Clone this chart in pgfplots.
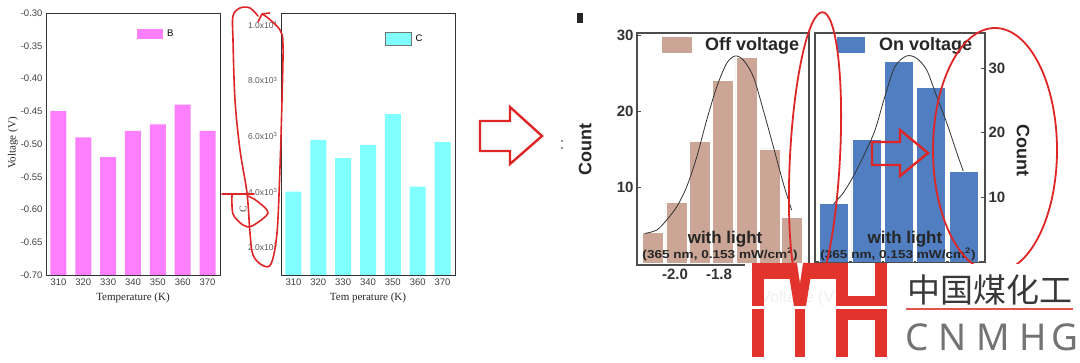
\documentclass[border=0pt]{standalone}
\usepackage{fontspec}
\setmainfont{Liberation Sans}
\newfontfamily\timesf{Liberation Serif}
\newfontfamily\cjk{Noto Sans CJK SC}
\newfontfamily\notos{Noto Sans}
\usepackage{pgfplots}
\pgfplotsset{compat=1.18}
\definecolor{magb}{RGB}{255,128,255}
\definecolor{cyanc}{RGB}{128,255,255}
\definecolor{offc}{RGB}{203,165,149}
\definecolor{onc}{RGB}{80,126,192}
\definecolor{annred}{RGB}{222,38,38}
\definecolor{logored}{RGB}{226,52,44}
\pgfplotsset{every axis/.append style={clip mode=individual}}
\begin{document}
\begin{tikzpicture}
\path[use as bounding box] (0,0) rectangle (1080pt,-363pt);

% ---------------- Panel B ----------------
\begin{axis}[at={(46pt,-275pt)}, anchor=south west, scale only axis,
  width=174pt, height=262pt,
  xmin=305, xmax=375, ymin=0, ymax=0.4,
  xtick={310,320,330,340,350,360,370},
  ytick={0,0.05,0.1,0.15,0.2,0.25,0.3,0.35,0.4},
  yticklabels={-0.70,-0.65,-0.60,-0.55,-0.50,-0.45,-0.40,-0.35,-0.30},
  major tick length=0pt,
  axis line style={black!80, line width=0.7pt},
  tick label style={font=\fontsize{9.5}{10}\selectfont, text=black!75},
  /pgf/number format/assume math mode=true,
  /pgf/number format/1000 sep={},
  legend style={at={(rel axis cs:0.523,0.92)}, anchor=west, draw=none, fill=none,
    inner sep=0pt, nodes={inner sep=0pt}, font=\fontsize{9.5}{10}\selectfont},
]
\addplot[ybar, bar width=16pt, fill=magb, draw=none, forget plot]
  table[x=T, y expr=\thisrow{V}+0.7] {
T V
310 -0.45
320 -0.49
330 -0.52
340 -0.48
350 -0.47
360 -0.44
370 -0.48
};
\addlegendimage{legend image code/.code={\fill[magb, draw=none] (0pt,-5pt) rectangle (26pt,5pt); \path[draw=none] (0pt,0pt) -- (30pt,0pt);}}
\addlegendentry{B}
\node[font=\timesf\fontsize{11}{11}\selectfont, text=black!85] at (axis description cs:0.5,-0.088) {Temperature (K)};
\node[rotate=90, font=\timesf\fontsize{11}{11}\selectfont, text=black!85] at (axis description cs:-0.19,0.504) {Voltage (V)};
\end{axis}

% ---------------- Panel C ----------------
\begin{axis}[at={(281pt,-275pt)}, anchor=south west, scale only axis,
  width=174pt, height=262pt,
  xmin=305, xmax=375, ymin=1000, ymax=10430,
  scaled y ticks=false,
  xtick={310,320,330,340,350,360,370},
  ytick={2000,4000,6000,8000,10000},
  yticklabels={2.0x10\textsuperscript{3},4.0x10\textsuperscript{3},6.0x10\textsuperscript{3},8.0x10\textsuperscript{3},1.0x10\textsuperscript{4}},
  major tick length=0pt,
  axis line style={black!80, line width=0.7pt},
  tick label style={font=\fontsize{9.5}{10}\selectfont, text=black!75},
  yticklabel style={font=\fontsize{8.5}{9}\selectfont, text=black!65},
  /pgf/number format/assume math mode=true,
  /pgf/number format/1000 sep={},
  legend style={at={(rel axis cs:0.598,0.901)}, anchor=west, draw=none, fill=none,
    inner sep=0pt, nodes={inner sep=0pt}, font=\fontsize{9.5}{10}\selectfont},
]
\addplot[ybar, bar width=16pt, fill=cyanc, draw=none, forget plot] coordinates {
(310,4000) (320,5860) (330,5210) (340,5680) (350,6790) (360,4180) (370,5780)};
\addlegendimage{legend image code/.code={\filldraw[fill=cyanc, draw=black!55, line width=0.6pt] (0pt,-6.5pt) rectangle (26pt,6.5pt); \path[draw=none] (0pt,0pt) -- (30pt,0pt);}}
\addlegendentry{C}
\node[font=\timesf\fontsize{11}{11}\selectfont, text=black!85] at (axis description cs:0.5,-0.088) {Tem perature (K)};
\node[rotate=90, font=\timesf\fontsize{10}{10}\selectfont, text=black!75] at (axis description cs:-0.218,0.252) {C};
\end{axis}

% ---------------- Panel Off voltage ----------------
\begin{axis}[at={(637pt,-265pt)}, anchor=south west, scale only axis,
  width=172pt, height=232pt,
  xmin=-2.173, xmax=-1.391, ymin=-0.26, ymax=30.26,
  xtick={-2.0,-1.8,-1.6}, xticklabels={-2.0,-1.8,-1.6},
  ytick={10,20,30},
  xtick pos=left, ytick pos=left,
  major tick length=4pt,
  tick style={black!70, line width=0.8pt},
  axis line style={black!70, line width=1.3pt},
  tick label style={font=\bfseries\fontsize{15}{15}\selectfont, text=black!80},
  /pgf/number format/assume math mode=true,
  legend style={at={(rel axis cs:0.145,0.948)}, anchor=west, draw=none, fill=none,
    inner sep=0pt, nodes={inner sep=0pt}, font=\bfseries\fontsize{18}{18}\selectfont, text=black!85},
]
\addplot[ybar, bar width=21pt, fill=offc, draw=white, line width=0.6pt, forget plot] coordinates {
(-2.100,4) (-1.994,8) (-1.888,16) (-1.784,24) (-1.676,27) (-1.570,15) (-1.470,6)};
\addplot[smooth, black!80, line width=0.8pt, forget plot] coordinates {
(-2.136,3.9) (-2.083,4.34) (-2.038,5.66) (-1.992,7.41) (-1.947,10.04) (-1.901,13.99)
(-1.856,18.82) (-1.810,23.2) (-1.765,26.28) (-1.727,27.24) (-1.690,26.71) (-1.644,24.51)
(-1.599,20.13) (-1.553,15.30) (-1.508,10.49) (-1.470,6.97)};
\addlegendimage{legend image code/.code={\fill[offc, draw=none] (0pt,-8pt) rectangle (30pt,8pt); \path[draw=none] (0pt,0pt) -- (43pt,0pt);}}
\addlegendentry{Off voltage}
\node[font=\bfseries\fontsize{17}{17}\selectfont, text=black!85] at (axis description cs:0.512,0.113) {with light};
\node[font=\bfseries\fontsize{11.5}{11.5}\selectfont, text=black!85, xscale=1.18] at (axis description cs:0.483,0.046) {(365 nm, 0.153 mW/cm\textsuperscript{2})};
\node[rotate=90, font=\bfseries\fontsize{18}{18}\selectfont, text=black!85] at (axis description cs:-0.302,0.496) {Count};
\end{axis}

% ---------------- Panel On voltage ----------------
\begin{axis}[at={(815pt,-262pt)}, anchor=south west, scale only axis,
  width=170pt, height=229pt,
  xmin=0.414, xmax=5.66, ymin=0, ymax=35.4,
  xtick=\empty,
  ytick={10,20,30},
  ytick pos=right, yticklabel pos=right,
  major tick length=4pt,
  tick style={black!70, line width=0.8pt},
  axis line style={black!70, line width=1.3pt},
  tick label style={font=\bfseries\fontsize{15}{15}\selectfont, text=black!80},
  /pgf/number format/assume math mode=true,
  legend style={at={(rel axis cs:0.129,0.948)}, anchor=west, draw=none, fill=none,
    inner sep=0pt, nodes={inner sep=0pt}, font=\bfseries\fontsize{18}{18}\selectfont, text=black!85},
]
\addplot[ybar, bar width=29pt, fill=onc, draw=white, line width=0.6pt, forget plot] coordinates {
(1,9) (2,19) (3,31) (4,27) (5,14)};
\addplot[smooth, black!80, line width=0.8pt, forget plot] coordinates {
(0.98,8.92) (1.29,10.72) (1.60,13.28) (1.96,16.88) (2.27,20.46) (2.57,25.58) (2.88,30.2)
(3.24,31.85) (3.55,31.49) (3.86,29.69) (4.17,25.58) (4.48,21.49) (4.79,16.88) (4.99,14.05)};
\addlegendimage{legend image code/.code={\fill[onc, draw=none] (0pt,-8pt) rectangle (28pt,8pt); \path[draw=none] (0pt,0pt) -- (42pt,0pt);}}
\addlegendentry{On voltage}
\node[font=\bfseries\fontsize{17}{17}\selectfont, text=black!85] at (axis description cs:0.529,0.100) {with light};
\node[font=\bfseries\fontsize{11.5}{11.5}\selectfont, text=black!85, xscale=1.18] at (axis description cs:0.488,0.034) {(365 nm, 0.153 mW/cm\textsuperscript{2})};
\node[rotate=-90, font=\bfseries\fontsize{18}{18}\selectfont, text=black!85] at (axis description cs:1.224,0.489) {Count};
\end{axis}

% ---------------- annotations ----------------
\begin{scope}[x=1pt,y=-1pt]
\fill[black!85] (577,13) rectangle (583,23);
\fill[black!55] (562,141) circle (1.1);
\fill[black!55] (562,148) circle (1.1);
\draw[annred, line width=1.6pt, line join=round, line cap=round] plot[smooth, tension=0.55] coordinates {
(258,16) (250,8) (240,8) (233,16) (233,40) (235,100) (240,150) (247,193) (250,233) (253,255) (262,265) (271,264) (277,233) (280,167) (282,100) (283,45) (280,30) (268,18) (262,14)};
\draw[annred, line width=1.6pt] (262,14) -- (258,22);
\draw[annred, line width=1.6pt] (262,14) -- (270,13);
\draw[annred, line width=1.6pt, line cap=round] (222,194) -- (254,194);
\draw[annred, line width=1.6pt, line join=round] plot[smooth, tension=0.5] coordinates {
(232,195) (233,214) (243,225) (252,226) (268,213) (257,201) (248,196)};
\draw[annred, line width=2.4pt, line join=miter] (480,121) -- (510,121) -- (510,107) -- (542,136) -- (510,164) -- (510,151) -- (480,151) -- cycle;
\draw[annred, line width=2.4pt, line join=miter] (872,142) -- (900,142) -- (900,130) -- (928,153) -- (900,176) -- (900,165) -- (872,165) -- cycle;
\draw[annred, line width=1.8pt, rotate around={-3:(815,157)}] (815,157) ellipse [x radius=25, y radius=145];
\draw[annred, line width=1.8pt] (995,150) ellipse [x radius=62, y radius=122];
% watermark logo
\fill[white] (745,264) rectangle (1082,365);
\node[text=black!6, font=\fontsize{16}{16}\selectfont] at (800,298) {Voltage (V)};
\fill[logored] (752,263) rectangle (764,357);
\fill[logored] (752,263) rectangle (791,279);
\fill[logored] (787,263) -- (813,263) -- (806,306) -- (794,306) -- cycle;
\fill[white] (797,263) -- (803,263) -- (800,283) -- cycle;
\fill[logored] (810,263) rectangle (848,279);
\fill[logored] (836,263) rectangle (848,357);
\fill[logored] (795,306) rectangle (805,357);
\fill[logored] (875,263) rectangle (887,357);
\fill[logored] (848,296) rectangle (875,320);
\fill[white] (750,306.5) rectangle (890,309.5);
\node[text=black!78, font=\cjk\fontsize{33}{33}\selectfont] at (990,290) {中国煤化工};
\fill[logored!85] (906,308) rectangle (1073,310.5);
\foreach \l/\xx in {C/917,N/953,M/993,H/1033,G/1065}
  \node[text=black!55, font=\notos\fontsize{37}{37}\selectfont] at (\xx,337) {\l};
\end{scope}
\end{tikzpicture}
\end{document}
